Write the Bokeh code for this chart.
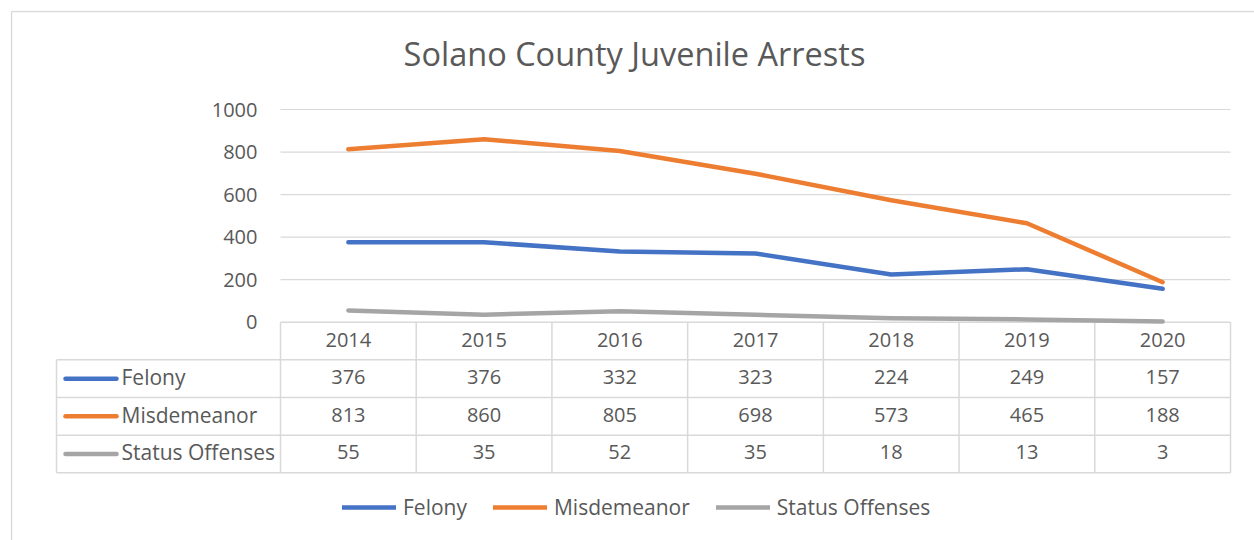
from bokeh.plotting import figure
from bokeh.models import Range1d, LinearAxis, FixedTicker, Legend, LegendItem
from bokeh.core.properties import value
from bokeh.embed import file_html
from bokeh.resources import INLINE

# ---------------- data ----------------
years = [2014, 2015, 2016, 2017, 2018, 2019, 2020]
felony = [376, 376, 332, 323, 224, 249, 157]
misdemeanor = [813, 860, 805, 698, 573, 465, 188]
status_offenses = [55, 35, 52, 35, 18, 13, 3]
series_names = ["Felony", "Misdemeanor", "Status Offenses"]
series_colors = ["#4472C4", "#ED7D31", "#A5A5A5"]
y_ticks = [0, 200, 400, 600, 800, 1000]
title_text = "Solano County Juvenile Arrests"

series_values = [felony, misdemeanor, status_offenses]

# ---------------- layout (pixels) ----------------
W, H = 1254, 540
FL, FT = 10, 10
fx0, fx1 = FL, W
fy0, fy1 = FT, H
PLOT_L, PLOT_R = 280.0, 1230.0
COLW = (PLOT_R - PLOT_L) / len(years)
Y0PX, YTOPPX = 321.7, 109.0
PX_PER_UNIT = (Y0PX - YTOPPX) / y_ticks[-1]
ROW_H = 37.65
LABEL_L = 56.0
TXT_DY = -1.5
TEXT = "#595959"
LINE = "#D9D9D9"
FONT = "Open Sans"
FS = "20px"
FS_LABEL = "21px"

x_start = years[0] - 0.5 - (PLOT_L - fx0) / COLW
x_end = years[0] - 0.5 + (fx1 - PLOT_L) / COLW
y_start = -(fy1 - Y0PX) / PX_PER_UNIT
y_end = (Y0PX - fy0) / PX_PER_UNIT

p = figure(width=W, height=H, output_backend="svg", toolbar_location=None,
           x_axis_type=None, y_axis_type=None,
           x_range=Range1d(x_start, x_end), y_range=Range1d(y_start, y_end),
           min_border_left=FL, min_border_top=FT, min_border_right=0, min_border_bottom=0)
p.extra_x_ranges = {"px": Range1d(fx0, fx1)}
p.extra_y_ranges = {"py": Range1d(fy1, fy0)}
p.outline_line_color = None
p.background_fill_color = "white"
p.border_fill_color = "white"

# chart area border (left and top edges visible)
p.segment(x0=[11, 11], x1=[11, W + 5], y0=[11, 11], y1=[H + 5, 11],
          line_color=LINE, line_width=1.5, x_range_name="px", y_range_name="py")

# gridlines (through data scales)
grid_vals = [t for t in y_ticks if t > 0]
p.segment(x0=[years[0] - 0.5] * len(grid_vals), x1=[years[-1] + 0.5] * len(grid_vals),
          y0=grid_vals, y1=grid_vals, line_color=LINE, line_width=1.2)

# y axis
ax = LinearAxis(ticker=FixedTicker(ticks=y_ticks), fixed_location=years[0] - 0.5,
                axis_line_color=None, major_tick_line_color=None, minor_tick_line_color=None,
                major_tick_out=0, major_tick_in=0, major_label_standoff=23,
                major_label_text_font=FONT, major_label_text_font_size=FS,
                major_label_text_color=TEXT, bounds=(0, 1000))
p.add_layout(ax, "left")

# data table structure
tops = [Y0PX + i * ROW_H for i in range(len(series_names) + 2)]
p.segment(x0=[PLOT_L] + [LABEL_L] * (len(tops) - 1), x1=[PLOT_R] * len(tops),
          y0=tops, y1=tops, line_color=LINE, line_width=1.5,
          x_range_name="px", y_range_name="py")
vx = [PLOT_L + k * COLW for k in range(len(years) + 1)]
p.segment(x0=vx + [LABEL_L], x1=vx + [LABEL_L],
          y0=[tops[0]] * len(vx) + [tops[1]], y1=[tops[-1]] * (len(vx) + 1),
          line_color=LINE, line_width=1.5, x_range_name="px", y_range_name="py")

# header years
p.text(x=years, y=[(tops[0] + tops[1]) / 2 + TXT_DY] * len(years), text=[str(y) for y in years],
       y_range_name="py", text_align="center", text_baseline="middle",
       text_font=value(FONT), text_font_size=FS, text_color=TEXT)

# rows
renderers = []
for i, (name, vals, col) in enumerate(zip(series_names, series_values, series_colors)):
    cy = (tops[i + 1] + tops[i + 2]) / 2
    p.text(x=years, y=[cy + TXT_DY] * len(years), text=[str(v) for v in vals],
           y_range_name="py", text_align="center", text_baseline="middle",
           text_font=value(FONT), text_font_size=FS, text_color=TEXT)
    p.segment(x0=[65], x1=[116], y0=[cy], y1=[cy], line_color=col, line_width=4.5,
              line_cap="round", x_range_name="px", y_range_name="py")
    p.text(x=[121], y=[cy + TXT_DY], text=[name], x_range_name="px", y_range_name="py",
           text_align="left", text_baseline="middle",
           text_font=value(FONT), text_font_size=FS_LABEL, text_color=TEXT)
    r = p.line(years, vals, line_color=col, line_width=4.5, line_cap="round", line_join="round")
    renderers.append(r)

# title
p.text(x=[634], y=[52.5], text=[title_text], x_range_name="px", y_range_name="py",
       text_align="center", text_baseline="middle",
       text_font=value(FONT), text_font_size="32.5px", text_color=TEXT)

legend = Legend(items=[LegendItem(label=n, renderers=[r]) for n, r in zip(series_names, renderers)],
                orientation="horizontal", location=(332, 19),
                border_line_color=None, background_fill_alpha=0,
                glyph_width=54, glyph_height=24, label_height=24,
                label_text_font=FONT, label_text_font_size=FS_LABEL, label_text_color=TEXT,
                spacing=26, padding=0, margin=0, label_standoff=7)
p.add_layout(legend)

open("out.html", "w").write(file_html(p, INLINE))
